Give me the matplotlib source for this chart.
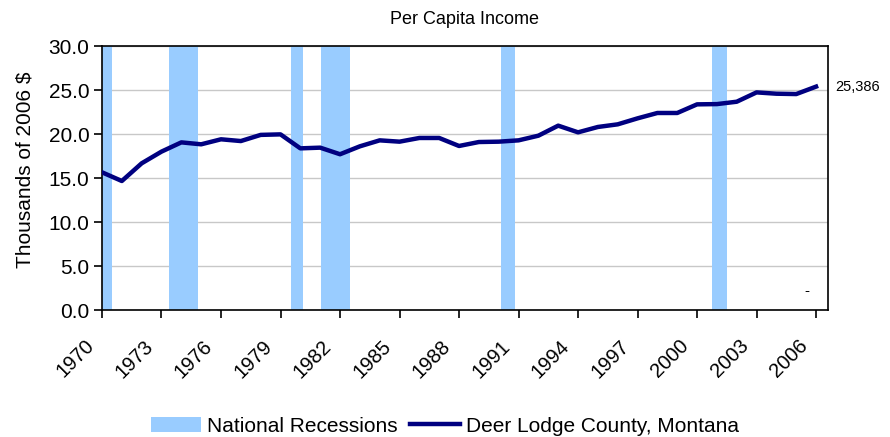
import matplotlib.pyplot as plt
import matplotlib.transforms as mtransforms
import numpy as np

plt.rcParams['font.family'] = ['Liberation Sans', 'DejaVu Sans']

# ---------------- data ----------------
years = list(range(1970, 2007))
income = [15.65, 14.66, 16.67, 18.0, 19.05, 18.83, 19.4, 19.2, 19.9, 19.96,
          18.37, 18.45, 17.7, 18.6, 19.28, 19.13, 19.55, 19.55, 18.64, 19.09,
          19.13, 19.28, 19.81, 20.95, 20.19, 20.8, 21.1, 21.78, 22.39, 22.39,
          23.37, 23.4, 23.67, 24.73, 24.58, 24.54, 25.386]
rec_start = [1970.0, 1973.4, 1979.55, 1981.05, 1990.1, 2000.75]
rec_end = [1970.5, 1974.85, 1980.13, 1982.5, 1990.82, 2001.53]
xtick_years = list(range(1970, 2007, 3))
last_label = "25,386"

rec_color = '#99CCFF'
line_color = '#000080'

fig = plt.figure(figsize=(8.9, 4.37), dpi=100)
ax = fig.add_axes([0.1146, 0.2906, 0.8157, 0.6041])

for i, (s, e) in enumerate(zip(rec_start, rec_end)):
    ax.axvspan(s, e, color=rec_color, lw=0, zorder=1,
               label='National Recessions' if i == 0 else None)

ax.plot(years, income, color=line_color, lw=3.2, zorder=3,
        label='Deer Lodge County, Montana')

ax.set_xlim(1970, 2006.6)
ax.set_ylim(0, 30)
ax.set_yticks(np.arange(0, 30.1, 5))
ax.set_yticklabels([f'{v:.1f}' for v in np.arange(0, 30.1, 5)])
ax.set_xticks(xtick_years)
ax.set_xticklabels([str(y) for y in xtick_years], rotation=45,
                   ha='right', rotation_mode='anchor')
ax.tick_params(axis='both', direction='out', length=6,
               width=1.2, color='black')
ax.tick_params(axis='x', labelsize=14.5, pad=5)
ax.tick_params(axis='y', labelsize=15, pad=3)

# push the slanted year labels down/left like the original
shift = mtransforms.ScaledTranslation(-0.18, -0.11, fig.dpi_scale_trans)
for lbl in ax.get_xticklabels():
    lbl.set_transform(lbl.get_transform() + shift)

ax.yaxis.grid(True, color='#C8C8C8', lw=1, zorder=0)
ax.set_axisbelow(True)
for sp in ax.spines.values():
    sp.set_color('black')
    sp.set_linewidth(1.2)

ax.set_ylabel('Thousands of 2006 $', fontsize=15, labelpad=10, y=0.53)
ax.set_title('Per Capita Income', fontsize=13, pad=16)

ax.annotate(last_label, xy=(years[-1], income[-1]), xytext=(14, 0),
            textcoords='offset points', fontsize=10.5, va='center', ha='left',
            annotation_clip=False)
ax.text(years[-2] + 0.55, 2.2, '-', fontsize=11, ha='center', va='center')

handles, labels = ax.get_legend_handles_labels()
fig.legend(handles, labels, loc='lower center', bbox_to_anchor=(0.5, -0.04),
           ncol=2, frameon=False, fontsize=15, handlelength=2.4,
           handletextpad=0.3, columnspacing=0.6)

fig.savefig('out.png', dpi=100)
